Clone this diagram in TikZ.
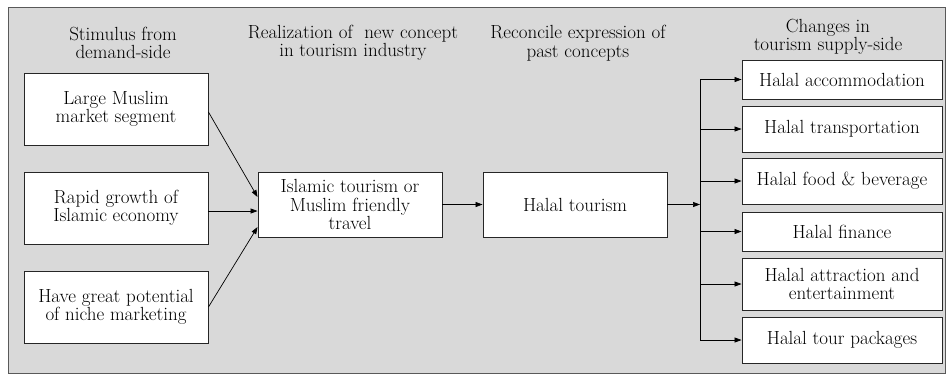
\documentclass[tikz,border=0pt]{standalone}
\usepackage{fontspec}
\usetikzlibrary{arrows.meta}
\definecolor{bggray}{HTML}{D9D9D9}
\begin{document}
\begin{tikzpicture}[x=1pt,y=-1pt,
  txt/.style={font=\rmfamily\fontsize{19}{18.5}\selectfont},
  box/.style={txt, draw=black!85, fill=white, line width=0.9pt, align=center, inner sep=0pt},
  hdr/.style={txt, align=center, inner sep=0pt},
  arr/.style={-{Triangle[length=7pt,width=5pt]}, line width=0.7pt},
  ln/.style={line width=0.7pt}]
\useasboundingbox (0,0) rectangle (947,376);
\draw[fill=bggray, draw=black!65, line width=1pt] (8,7) rectangle (945,373);

% headers
\node[hdr] (h1) at (123,43) {Stimulus from\\demand-side};
\node[hdr] (h2) at (353,43) {Realization of \ new concept\\in tourism industry};
\node[hdr] (h3) at (578,43) {Reconcile expression of\\past concepts};
\node[hdr] (h4) at (828,37) {Changes in\\tourism supply-side};

% left boxes
\node[box, minimum width=184pt, minimum height=72pt] (lm) at (116,109) {Large Muslim\\market segment};
\node[box, minimum width=184pt, minimum height=72pt] (rg) at (116,208) {Rapid growth of\\Islamic economy};
\node[box, minimum width=184pt, minimum height=72pt] (hg) at (116,307) {Have great potential\\of niche marketing};

% middle boxes
\node[box, minimum width=184pt, minimum height=65pt] (isl) at (350,204.5) {Islamic tourism or\\Muslim friendly\\travel};
\node[box, minimum width=184pt, minimum height=65pt] (ht) at (575,204.5) {Halal tourism};

% right boxes
\node[box, minimum width=200pt, minimum height=39pt] (acc) at (842,79.5) {Halal accommodation};
\node[box, minimum width=200pt, minimum height=46pt] (tra) at (842,129) {Halal transportation};
\node[box, minimum width=200pt, minimum height=46pt] (fb) at (842,181) {Halal food \& beverage};
\node[box, minimum width=200pt, minimum height=39pt] (fin) at (842,231.5) {Halal finance};
\node[box, minimum width=200pt, minimum height=52pt] (att) at (842,284) {Halal attraction and\\entertainment};
\node[box, minimum width=200pt, minimum height=46pt] (tour) at (842,340) {Halal tour packages};

% connectors
\draw[arr] ([yshift=-3pt]lm.east) -- ([yshift=7.5pt]isl.west);
\draw[arr] ([yshift=-3pt]rg.east) -- ([yshift=-6.5pt]isl.west);
\draw[arr] (hg.east) -- ([yshift=-22.5pt]isl.west);
\draw[arr] (isl.east) -- (ht.west);

\coordinate (j) at (700,204.5);
\draw[arr] (ht.east) -- (j);
\draw[ln] (j |- acc.west) -- (j |- tour.west);
\foreach \n in {acc,tra,fb,fin,att,tour}
  \draw[arr] (j |- \n.west) -- (\n.west);
\end{tikzpicture}
\end{document}
